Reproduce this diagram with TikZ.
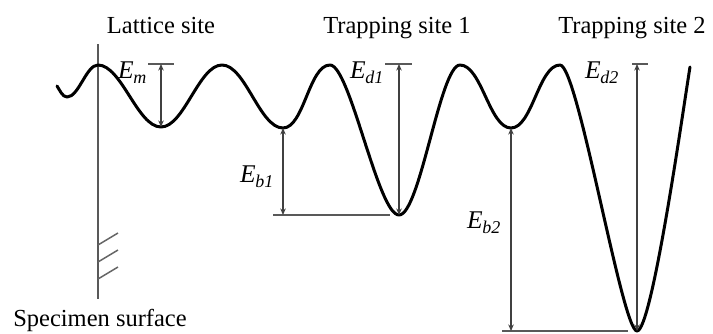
\documentclass[tikz,border=0pt]{standalone}
\usepackage{fontspec}
\setmainfont{Liberation Serif}
\usetikzlibrary{arrows.meta}
\newcommand{\Elab}[1]{\textit{E}\kern-0.5pt\raisebox{-5pt}{\fontsize{18}{18}\selectfont\textit{#1}}}
\begin{document}
\begin{tikzpicture}[x=1pt,y=-1pt,
  curve/.style={line width=3pt, black, line join=round, line cap=round},
  dim/.style={line width=1.4pt, draw=black!75, {Stealth[length=6.5pt,width=5.5pt,inset=2pt]}-{Stealth[length=6.5pt,width=5.5pt,inset=2pt]}},
  refline/.style={line width=1.5pt, draw=black!65},
  lbl/.style={font=\fontsize{24.5}{28}\selectfont, anchor=base, inner sep=0pt},
  elbl/.style={font=\fontsize{25.5}{28}\selectfont, anchor=base west, inner sep=0pt},
  wave/.style={out=0,in=180,looseness=0.68}]
\useasboundingbox (0,0) rectangle (713,333);
% curve points
\coordinate (s) at (57,86);
\coordinate (m0) at (67,97);
\coordinate (p1) at (98,65);
\coordinate (v1) at (161,127);
\coordinate (p2) at (222,65);
\coordinate (v2) at (283,128);
\coordinate (p3) at (330,65);
\coordinate (v3) at (399,215);
\coordinate (p4) at (460,65);
\coordinate (v4) at (511,128);
\coordinate (p5) at (560,65);
\coordinate (v5) at (637,331);
\coordinate (e) at (690,67);
% surface
\coordinate (surfT) at (98,44);
\coordinate (surfB) at (98,299);
\draw[line width=1.8pt, draw=black!65] (surfT) -- (surfB);
\foreach \y in {245,262,279}{
  \draw[line width=1.5pt, draw=black!60] (98,\y) -- (118,\y-12);
}
% energy curve
\draw[curve] (s) to[out=-55,in=180,looseness=0.8] (m0) to[wave] (p1)
  to[wave] (v1) to[wave] (p2) to[wave] (v2)
  to[wave] (p3)
  .. controls (350,65) and (378,215) .. (v3)
  .. controls (420,215) and (440,65) .. (p4)
  to[wave] (v4) to[wave] (p5)
  .. controls (578,65) and (622,331) .. (v5)
  .. controls (652,331) and (683,110) .. (e);
% reference lines
\coordinate (emL) at (148,64); \coordinate (emR) at (174,64); \coordinate (emT) at (161,64);
\coordinate (b1L) at (273,215); \coordinate (b1R) at (390,215); \coordinate (b1B) at (283,215);
\coordinate (d1L) at (385,64); \coordinate (d1R) at (412,64); \coordinate (d1T) at (399,64);
\coordinate (b2L) at (502,331); \coordinate (b2R) at (628,331); \coordinate (b2B) at (511,331);
\coordinate (d2L) at (632,64); \coordinate (d2R) at (648,64); \coordinate (d2T) at (637,64);
\draw[refline] (emL) -- (emR);
\draw[refline] (b1L) -- (b1R);
\draw[refline] (d1L) -- (d1R);
\draw[refline] (b2L) -- (b2R);
\draw[refline] (d2L) -- (d2R);
\draw[dim] (emT) -- (v1);
\draw[dim] (v2) -- (b1B);
\draw[dim] (d1T) -- (v3);
\draw[dim] (v4) -- (b2B);
\draw[dim] (d2T) -- (v5);
% labels
\node[lbl] (lat) at (161,33) {Lattice site};
\node[lbl] (ts1) at (397,33) {Trapping site 1};
\node[lbl] (ts2) at (632,33) {Trapping site 2};
\node[lbl] (spec) at (100,326) {Specimen surface};
\node[elbl] (Em) at (118,78) {\Elab{m}};
\node[elbl] (Ed1) at (350,78) {\Elab{d1}};
\node[elbl] (Eb1) at (240,182) {\Elab{b1}};
\node[elbl] (Eb2) at (467,228) {\Elab{b2}};
\node[elbl] (Ed2) at (585,78) {\Elab{d2}};
\end{tikzpicture}
\end{document}
